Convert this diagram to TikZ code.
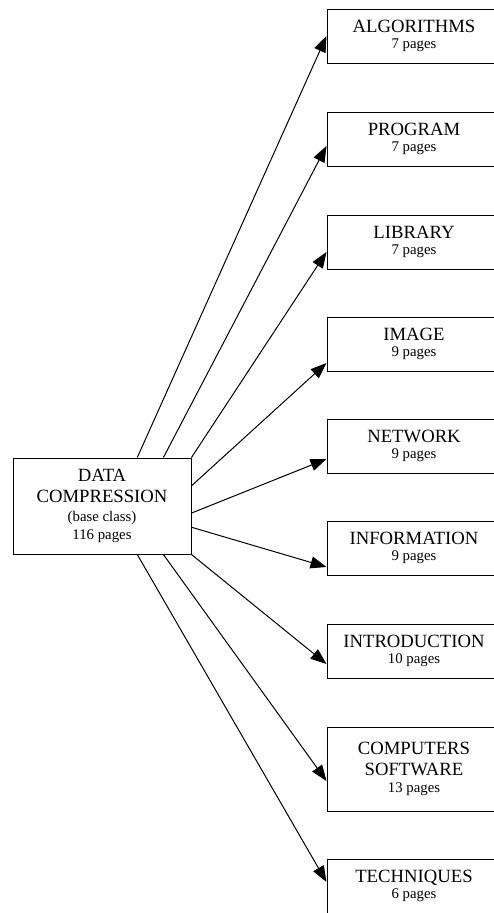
\documentclass[tikz,border=0pt]{standalone}
\usepackage{fontspec}
\setmainfont{Liberation Serif}
\usetikzlibrary{arrows.meta,calc}
\newcommand\ttlf{\fontsize{18.7}{21}\selectfont}
\newcommand\subf{\fontsize{14.8}{17.5}\selectfont}
\tikzset{
  cls/.style={draw, line width=1pt, minimum width=174pt, minimum height=54pt, inner sep=0pt, align=center, font=\ttlf},
  base/.style={draw, line width=1pt, minimum width=178pt, minimum height=96pt, inner sep=0pt, align=center, font=\ttlf},
  edge/.style={line width=1pt, -{Triangle[length=16pt,width=12pt]}}
}
\begin{document}
\begin{tikzpicture}[x=1pt,y=-1pt]
\useasboundingbox (0,0) rectangle (494,913);
\clip (0,0) rectangle (494,913);
\node[base] (dc) at (102,506) {DATA\\COMPRESSION\\[-2pt]{\subf (base class)}\\[-3pt]{\subf 116 pages}};
\node[cls] (alg) at (414,36) {ALGORITHMS\\[-5pt]{\subf 7 pages}};
\node[cls] (prg) at (414,139) {PROGRAM\\[-5pt]{\subf 7 pages}};
\node[cls] (lib) at (414,242) {LIBRARY\\[-5pt]{\subf 7 pages}};
\node[cls] (img) at (414,344) {IMAGE\\[-5pt]{\subf 9 pages}};
\node[cls] (net) at (414,446) {NETWORK\\[-5pt]{\subf 9 pages}};
\node[cls] (inf) at (414,548) {INFORMATION\\[-5pt]{\subf 9 pages}};
\node[cls] (intro) at (414,651) {INTRODUCTION\\[-5pt]{\subf 10 pages}};
\node[cls, minimum height=84pt] (cmp) at (414,769) {COMPUTERS\\SOFTWARE\\[-4pt]{\subf 13 pages}};
\node[cls] (tech) at (414,886) {TECHNIQUES\\[-5pt]{\subf 6 pages}};
\draw[edge] ($(dc.north west)!0.697!(dc.north east)$) -- ([yshift=0pt]alg.west);
\draw[edge] ($(dc.north west)!0.843!(dc.north east)$) -- ([yshift=-7pt]prg.west);
\draw[edge] (dc.north east) -- ([yshift=-10pt]lib.west);
\draw[edge] ($(dc.north east)!0.292!(dc.south east)$) -- ([yshift=-19pt]img.west);
\draw[edge] ($(dc.north east)!0.573!(dc.south east)$) -- ([yshift=-13pt]net.west);
\draw[edge] ($(dc.north east)!0.719!(dc.south east)$) -- ([yshift=-19pt]inf.west);
\draw[edge] (dc.south east) -- ([yshift=-13pt]intro.west);
\draw[edge] ($(dc.south west)!0.843!(dc.south east)$) -- ([yshift=-12pt]cmp.west);
\draw[edge] ($(dc.south west)!0.697!(dc.south east)$) -- ([yshift=4pt]tech.west);
\end{tikzpicture}
\end{document}
